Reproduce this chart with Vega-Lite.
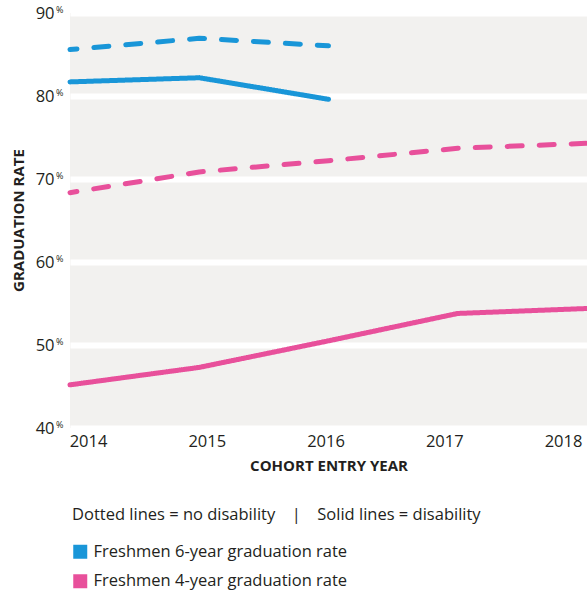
{
  "$schema": "https://vega.github.io/schema/vega-lite/v6.json",
  "width": 517,
  "height": 415,
  "autosize": "none",
  "padding": {"left": 70, "top": 13, "right": 0, "bottom": 162},
  "background": "white",
  "config": {
    "font": "Open Sans",
    "view": {"fill": "#f2f1ef", "stroke": null},
    "axis": {"labelColor": "#231f20", "titleColor": "#231f20", "domain": false, "ticks": false}
  },
  "data": {
    "values": [
      {"year": 2014, "value": 85.6, "series": "Freshmen 6-year graduation rate", "group": "no disability"},
      {"year": 2015, "value": 86.95, "series": "Freshmen 6-year graduation rate", "group": "no disability"},
      {"year": 2016, "value": 86.05, "series": "Freshmen 6-year graduation rate", "group": "no disability"},
      {"year": 2014, "value": 81.7, "series": "Freshmen 6-year graduation rate", "group": "disability"},
      {"year": 2015, "value": 82.2, "series": "Freshmen 6-year graduation rate", "group": "disability"},
      {"year": 2016, "value": 79.6, "series": "Freshmen 6-year graduation rate", "group": "disability"},
      {"year": 2014, "value": 68.35, "series": "Freshmen 4-year graduation rate", "group": "no disability"},
      {"year": 2015, "value": 70.85, "series": "Freshmen 4-year graduation rate", "group": "no disability"},
      {"year": 2016, "value": 72.2, "series": "Freshmen 4-year graduation rate", "group": "no disability"},
      {"year": 2017, "value": 73.7, "series": "Freshmen 4-year graduation rate", "group": "no disability"},
      {"year": 2018, "value": 74.3, "series": "Freshmen 4-year graduation rate", "group": "no disability"},
      {"year": 2014, "value": 45.2, "series": "Freshmen 4-year graduation rate", "group": "disability"},
      {"year": 2015, "value": 47.3, "series": "Freshmen 4-year graduation rate", "group": "disability"},
      {"year": 2016, "value": 50.5, "series": "Freshmen 4-year graduation rate", "group": "disability"},
      {"year": 2017, "value": 53.8, "series": "Freshmen 4-year graduation rate", "group": "disability"},
      {"year": 2018, "value": 54.4, "series": "Freshmen 4-year graduation rate", "group": "disability"}
    ]
  },
  "layer": [
    {
      "mark": {"type": "line", "strokeWidth": 5, "strokeCap": "round", "strokeJoin": "round", "strokeDashOffset": 8, "clip": false},
      "encoding": {
        "x": {"field": "year", "type": "quantitative", "scale": {"domain": [2014, 2018], "nice": false, "zero": false}, "axis": null},
        "y": {
          "field": "value", "type": "quantitative",
          "scale": {"domain": [40, 90], "nice": false, "zero": false},
          "axis": {
            "values": [40, 50, 60, 70, 80, 90],
            "grid": true, "gridColor": "white", "gridWidth": 6, "gridOpacity": 1,
            "labelFontSize": 16.5, "labelPadding": 16, "labelBaseline": "middle",
            "title": "GRADUATION RATE", "titleFontSize": 15, "titleFontWeight": "bold",
            "titleX": -52, "titleY": 207, "titleAngle": 270, "titleBaseline": "middle", "titleAlign": "center"
          }
        },
        "color": {
          "field": "series", "type": "nominal",
          "scale": {"domain": ["Freshmen 6-year graduation rate", "Freshmen 4-year graduation rate"], "range": ["#1996d8", "#e8509b"]},
          "legend": {
            "orient": "none", "legendX": 2, "legendY": 494, "padding": 0,
            "title": "Dotted lines = no disability\u2002\u2002|\u2002\u2002Solid lines = disability",
            "titleFontSize": 16.5, "titleFontWeight": "normal", "titleColor": "#231f20", "titlePadding": 20, "titleLimit": 600,
            "symbolType": "square", "symbolSize": 196, "symbolStrokeWidth": 0,
            "labelFontSize": 16.5, "labelColor": "#231f20", "labelOffset": 5, "labelLimit": 400, "rowPadding": 12.5,
            "encode": {"symbols": {"update": {"fill": {"scale": "color", "field": "value"}, "strokeWidth": {"value": 0}, "opacity": {"value": 1}}}}
          }
        },
        "strokeDash": {
          "field": "group", "type": "nominal",
          "scale": {"domain": ["no disability", "disability"], "range": [[15, 17], [1, 0]]},
          "legend": null
        }
      }
    },
    {
      "mark": {"type": "point", "opacity": 0},
      "encoding": {
        "x": {
          "field": "year", "type": "quantitative",
          "scale": {"domain": [2013.848, 2018.202], "nice": false, "zero": false},
          "axis": {
            "values": [2014, 2015, 2016, 2017, 2018], "format": "d", "grid": false,
            "labelFontSize": 16.5, "labelPadding": 5, "labelFlush": false,
            "title": "COHORT ENTRY YEAR", "titleFontSize": 15, "titleFontWeight": "bold", "titlePadding": 9
          }
        },
        "y": {
          "field": "value", "type": "quantitative",
          "axis": {
            "orient": "left", "values": [40, 50, 60, 70, 80, 90], "grid": false,
            "labelExpr": "'%'", "labelFontSize": 9, "labelPadding": 7, "labelOffset": -4, "labelBaseline": "middle",
            "title": null
          }
        }
      }
    }
  ],
  "resolve": {"scale": {"x": "independent"}, "axis": {"y": "independent"}}
}
